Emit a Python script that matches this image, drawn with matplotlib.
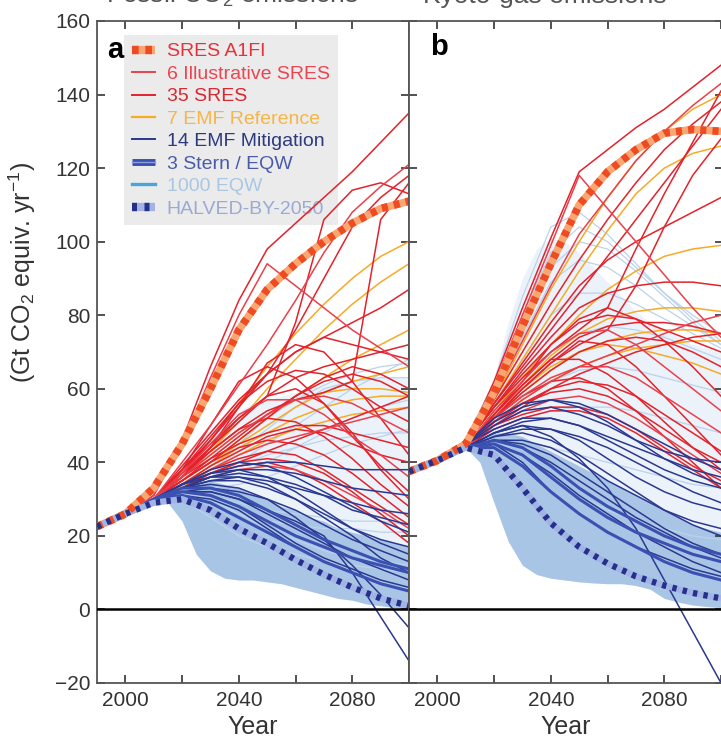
import matplotlib
matplotlib.use("Agg")
import matplotlib.pyplot as plt
from matplotlib.lines import Line2D
from matplotlib.ticker import FixedLocator, FuncFormatter

plt.rcParams['font.family'] = ['Liberation Sans', 'DejaVu Sans']
plt.rcParams['mathtext.fontset'] = 'custom'
plt.rcParams['mathtext.rm'] = 'Liberation Sans'
plt.rcParams['mathtext.it'] = 'Liberation Sans:italic'
plt.rcParams['axes.unicode_minus'] = True

# ---------------------------------------------------------------- data
years = [1990, 2000, 2010, 2020, 2030, 2040, 2050, 2060, 2070, 2080, 2090, 2100]
band_years = [2010, 2015, 2020, 2025, 2030, 2035, 2040, 2045, 2050, 2055,
              2060, 2065, 2070, 2075, 2080, 2085, 2090, 2095, 2100]

panel_titles = ['Fossil CO$_2$ emissions', 'Kyoto-gas emissions']
panel_letters = ['a', 'b']
x_tick_values = [2000, 2020, 2040, 2060, 2080, 2100]
x_tick_labels = {2000: '2000', 2040: '2040', 2080: '2080'}
y_tick_values = [-20, 0, 20, 40, 60, 80, 100, 120, 140, 160]

legend_labels = ['SRES A1FI', '6 Illustrative SRES', '35 SRES', '7 EMF Reference',
                 '14 EMF Mitigation', '3 Stern / EQW', '1000 EQW', 'HALVED-BY-2050']

# panel a: fossil CO2
a_a1fi = [22.5, 26, 33, 45, 60, 76, 87, 94, 100, 105, 109, 111]
a_halved = [22.5, 26, 29, 30, 27, 22, 18, 13.5, 9.5, 6, 3, 1]
a_illustrative = [
    [22.5, 26, 31, 45, 63, 80, 94, 88, 82, 76, 71, 66],
    [22.5, 26, 30, 40, 50, 61, 72, 84, 97, 108, 115, 121],
    [22.5, 26, 30, 36, 42, 48, 53, 57, 58, 56, 52, 48],
    [22.5, 26, 30, 37, 45, 53, 57, 57, 53, 47, 42, 36],
    [22.5, 26, 30, 34, 38, 42, 45, 47, 49, 51, 53, 55],
    [22.5, 26, 29, 33, 36, 38, 39, 38, 35, 31, 27, 22],
]
a_sres = [
    [22.5, 26, 31, 46, 66, 84, 98, 105, 112, 119, 127, 135],
    [22.5, 26, 30, 38, 45, 52, 58, 78, 106, 114, 116, 113],
    [22.5, 26, 30, 38, 46, 55, 64, 76, 90, 104, 112, 118],
    [22.5, 26, 30, 37, 43, 49, 54, 57, 59, 62, 106, 116],
    [22.5, 26, 30, 39, 48, 57, 64, 70, 74, 72, 70, 68],
    [22.5, 26, 30, 37, 44, 51, 58, 63, 66, 68, 70, 72],
    [22.5, 26, 30, 38, 47, 56, 62, 65, 64, 60, 55, 51],
    [22.5, 26, 30, 35, 40, 46, 52, 58, 63, 66, 64, 60],
    [22.5, 26, 30, 36, 41, 45, 48, 50, 50, 48, 46, 44],
    [22.5, 26, 30, 34, 39, 43, 47, 49, 48, 45, 42, 40],
    [22.5, 26, 30, 36, 43, 49, 52, 51, 47, 41, 34, 28],
    [22.5, 26, 30, 35, 40, 44, 46, 45, 42, 37, 31, 25],
    [22.5, 26, 30, 34, 38, 41, 43, 42, 38, 33, 28, 23],
    [22.5, 26, 29, 33, 37, 40, 41, 40, 37, 32, 26, 20],
    [22.5, 26, 30, 36, 44, 52, 58, 60, 56, 48, 38, 30],
    [22.5, 26, 30, 35, 41, 47, 53, 58, 62, 64, 62, 58],
    [22.5, 26, 30, 38, 50, 62, 66, 63, 56, 47, 39, 32],
    [22.5, 26, 30, 36, 44, 55, 67, 72, 70, 62, 52, 42],
    [22.5, 26, 29, 33, 37, 40, 43, 46, 49, 52, 55, 58],
    [22.5, 26, 30, 34, 37, 39, 40, 38, 34, 29, 24, 18],
    [22.5, 26, 30, 37, 46, 56, 64, 70, 74, 78, 82, 87],
]
a_emf_ref = [
    [22.5, 26, 30, 37, 46, 56, 66, 75, 83, 90, 96, 100],
    [22.5, 26, 30, 36, 43, 51, 60, 68, 76, 83, 89, 94],
    [22.5, 26, 30, 35, 40, 46, 52, 58, 63, 68, 72, 76],
    [22.5, 26, 30, 35, 40, 45, 50, 55, 59, 62, 64, 66],
    [22.5, 26, 29, 34, 39, 44, 48, 52, 55, 57, 58, 58],
    [22.5, 26, 29, 33, 38, 42, 46, 49, 51, 53, 54, 55],
    [22.5, 26, 30, 36, 42, 48, 53, 57, 59, 60, 60, 59],
]
a_emf_mit = [
    [22.5, 26, 30, 34, 37, 39, 40, 40, 39, 38, 38, 38],
    [22.5, 26, 30, 33, 36, 38, 38, 37, 35, 33, 32, 31],
    [22.5, 26, 30, 33, 35, 36, 35, 33, 31, 29, 27, 26],
    [22.5, 26, 30, 33, 35, 35, 33, 30, 26, 22, 19, 17],
    [22.5, 26, 30, 32, 33, 32, 30, 27, 23, 19, 16, 13],
    [22.5, 26, 30, 32, 32, 30, 26, 22, 18, 14, 11, 8],
    [22.5, 26, 30, 33, 34, 33, 30, 25, 19, 12, 4, -5],
    [22.5, 26, 30, 32, 32, 30, 27, 24, 20, 10, -2, -14],
    [22.5, 26, 30, 34, 38, 40, 39, 36, 32, 28, 24, 21],
    [22.5, 26, 30, 33, 36, 37, 36, 34, 31, 27, 25, 23],
    [22.5, 26, 29, 31, 30, 27, 22, 17, 13, 10, 7, 5],
    [22.5, 26, 30, 34, 37, 38, 36, 32, 27, 22, 18, 15],
    [22.5, 26, 30, 32, 31, 28, 23, 18, 14, 11, 8, 6],
    [22.5, 26, 30, 34, 36, 36, 34, 30, 25, 20, 14, 10],
]
a_stern = [
    [22.5, 26, 30, 32, 31, 28, 24, 20, 17, 14, 12, 10],
    [22.5, 26, 30, 33, 33, 31, 27, 23, 19, 16, 13, 11],
    [22.5, 26, 30, 31, 29, 25, 21, 17, 13, 10, 7, 5],
]
a_eqw = [
    [22.5, 26, 30, 33, 36, 40, 45, 50, 55, 60, 64, 68],
    [22.5, 26, 30, 34, 39, 45, 52, 57, 61, 64, 66, 67],
    [22.5, 26, 30, 33, 35, 37, 40, 44, 48, 52, 55, 57],
    [22.5, 26, 30, 32, 33, 34, 36, 39, 42, 45, 47, 49],
    [22.5, 26, 30, 33, 36, 39, 42, 44, 46, 47, 48, 48],
    [22.5, 26, 30, 31, 29, 26, 24, 23, 22, 22, 21, 21],
    [22.5, 26, 30, 32, 31, 29, 27, 26, 25, 24, 24, 23],
    [22.5, 26, 30, 30, 25, 20, 17, 15, 13, 12, 11, 10],
    [22.5, 26, 30, 34, 38, 43, 49, 55, 60, 62, 63, 63],
    [22.5, 26, 30, 32, 30, 26, 22, 19, 16, 14, 13, 12],
]
a_eqw_low = [29.5, 29, 24, 15, 10.5, 8.5, 8, 8, 7.5, 7, 6, 5, 4, 3, 2.5, 1.5, 1, 0.5, 0]
a_eqw_core = [30.5, 32, 34, 35, 35, 34, 33, 31, 30, 28, 27, 25, 24, 22, 21, 20, 19, 18, 17]
a_eqw_high = [31, 35, 40, 45, 49, 52, 54, 56, 57, 58, 59, 60, 61, 62, 62, 63, 63, 63, 63]

# panel b: Kyoto gases
b_a1fi = [37.5, 40.5, 45, 59, 77, 94, 110, 119, 125, 129.5, 130.5, 130]
b_halved = [37.5, 40.5, 44, 42, 33, 23.5, 17, 12.5, 9, 6.5, 4.5, 3]
b_illustrative = [
    [37.5, 40.5, 45, 61, 80, 99, 118, 109, 100, 91, 82, 74],
    [37.5, 40.5, 45, 58, 73, 88, 102, 112, 122, 130, 137, 143],
    [37.5, 40.5, 44, 52, 58, 63, 66, 66, 63, 58, 53, 48],
    [37.5, 40.5, 44, 54, 62, 70, 75, 76, 72, 66, 60, 54],
    [37.5, 40.5, 44, 51, 57, 62, 66, 69, 72, 75, 78, 80],
    [37.5, 40.5, 44, 50, 54, 57, 58, 56, 52, 47, 42, 37],
]
b_sres = [
    [37.5, 40.5, 45, 62, 82, 101, 119, 125, 131, 136, 142, 148],
    [37.5, 40.5, 45, 57, 70, 83, 95, 106, 116, 125, 132, 138],
    [37.5, 40.5, 45, 56, 66, 76, 86, 96, 106, 116, 126, 136],
    [37.5, 40.5, 45, 55, 63, 70, 76, 82, 98, 113, 127, 141],
    [37.5, 40.5, 45, 55, 64, 72, 78, 80, 79, 76, 73, 70],
    [37.5, 40.5, 44, 53, 61, 68, 74, 77, 78, 78, 77, 75],
    [37.5, 40.5, 44, 52, 59, 65, 70, 73, 74, 73, 70, 66],
    [37.5, 40.5, 44, 51, 56, 60, 62, 61, 58, 53, 48, 43],
    [37.5, 40.5, 44, 52, 58, 62, 63, 60, 54, 47, 40, 33],
    [37.5, 40.5, 44, 49, 52, 54, 54, 52, 48, 43, 38, 33],
    [37.5, 40.5, 44, 53, 61, 68, 68, 64, 58, 51, 44, 38],
    [37.5, 40.5, 45, 55, 65, 74, 82, 86, 88, 89, 89, 88],
    [37.5, 40.5, 44, 53, 62, 72, 79, 82, 79, 73, 66, 58],
    [37.5, 40.5, 44, 50, 55, 60, 64, 67, 70, 72, 74, 75],
    [37.5, 40.5, 44, 52, 60, 67, 73, 72, 66, 58, 50, 42],
    [37.5, 40.5, 44, 52, 60, 67, 72, 76, 88, 104, 118, 128],
    [37.5, 40.5, 44, 51, 56, 59, 60, 58, 54, 49, 44, 40],
    [37.5, 40.5, 45, 56, 67, 78, 88, 95, 100, 104, 108, 112],
    [37.5, 40.5, 44, 50, 53, 55, 55, 53, 49, 44, 39, 35],
]
b_emf_ref = [
    [37.5, 40.5, 45, 57, 72, 87, 100, 112, 122, 130, 136, 140],
    [37.5, 40.5, 45, 56, 68, 80, 92, 103, 113, 120, 124, 126],
    [37.5, 40.5, 44, 54, 63, 72, 80, 87, 92, 96, 98, 99],
    [37.5, 40.5, 44, 53, 61, 69, 75, 79, 81, 82, 82, 81],
    [37.5, 40.5, 44, 52, 59, 65, 70, 73, 75, 76, 76, 75],
    [37.5, 40.5, 44, 51, 57, 62, 66, 69, 71, 72, 73, 73],
    [37.5, 40.5, 44, 53, 60, 66, 70, 72, 71, 69, 67, 64],
]
b_emf_mit = [
    [37.5, 40.5, 45, 50, 54, 55, 53, 50, 46, 43, 41, 40],
    [37.5, 40.5, 45, 49, 52, 52, 50, 46, 42, 38, 35, 33],
    [37.5, 40.5, 44, 48, 50, 49, 46, 41, 36, 32, 29, 27],
    [37.5, 40.5, 44, 47, 48, 46, 42, 37, 32, 27, 23, 20],
    [37.5, 40.5, 44, 46, 45, 42, 37, 32, 27, 22, 18, 15],
    [37.5, 40.5, 44, 45, 42, 37, 31, 26, 21, 17, 13, 10],
    [37.5, 40.5, 44, 48, 50, 47, 41, 33, 22, 8, -6, -20],
    [37.5, 40.5, 45, 52, 56, 57, 55, 51, 46, 41, 37, 34],
    [37.5, 40.5, 44, 46, 44, 40, 35, 30, 25, 21, 17, 14],
    [37.5, 40.5, 44, 48, 51, 52, 50, 47, 44, 41, 38, 36],
    [37.5, 40.5, 44, 46, 46, 44, 40, 35, 31, 27, 24, 22],
    [37.5, 40.5, 44, 45, 40, 32, 26, 21, 17, 14, 11, 9],
    [37.5, 40.5, 44, 47, 49, 49, 47, 44, 40, 36, 32, 29],
    [37.5, 40.5, 45, 51, 55, 57, 56, 53, 49, 45, 41, 38],
]
b_stern = [
    [37.5, 40.5, 44, 45, 42, 36, 30, 25, 21, 18, 15, 13],
    [37.5, 40.5, 44, 46, 44, 39, 33, 28, 24, 20, 17, 15],
    [37.5, 40.5, 44, 44, 39, 32, 26, 21, 17, 13, 10, 8],
]
b_eqw = [
    [37.5, 40.5, 46, 62, 85, 104, 108, 102, 94, 86, 79, 73],
    [37.5, 40.5, 46, 60, 80, 97, 104, 100, 93, 86, 80, 75],
    [37.5, 40.5, 45, 57, 74, 89, 95, 93, 88, 82, 77, 72],
    [37.5, 40.5, 45, 55, 68, 80, 86, 86, 83, 79, 75, 71],
    [37.5, 40.5, 45, 53, 62, 70, 75, 77, 76, 74, 71, 68],
    [37.5, 40.5, 45, 51, 57, 62, 65, 66, 65, 63, 61, 59],
    [37.5, 40.5, 45, 49, 52, 54, 55, 55, 54, 52, 50, 48],
    [37.5, 40.5, 45, 47, 46, 44, 42, 40, 38, 36, 34, 33],
    [37.5, 40.5, 45, 46, 42, 36, 31, 27, 24, 22, 20, 19],
    [37.5, 40.5, 45, 58, 77, 93, 100, 98, 92, 85, 78, 72],
]
b_eqw_low = [44, 40, 29, 18.5, 12, 9.5, 8.5, 8, 7.5, 7.2, 7, 7, 6.5, 5.5, 3, 2, 1.2, 0.8, 0.5]
b_eqw_core = [45, 46, 48, 48, 47, 45, 43, 41, 39, 37, 35, 33, 31, 29, 27, 25, 23, 22, 21]
b_eqw_high = [45, 50, 63, 78, 90, 98, 101, 100, 97, 93, 89, 85, 81, 78, 76, 74, 72, 71, 70]

# ---------------------------------------------------------------- styles
RED = '#e3222b'
RED_ILL = '#e9404b'
ORANGE = '#f7aa26'
NAVY = '#2b3890'
STERN = '#3a51b2'
EQW_LINE = '#bad3ec'
EQW_CORE = '#a9c5e6'
EQW_CLOUD = '#ebf2fa'
A1FI_BASE = '#f9a672'
A1FI_DASH = '#ee4b22'
HALVED_BASE = '#a3b3e4'
HALVED_DASH = '#23308c'
SPINE = '#555555'

W, H = 721, 741
fig = plt.figure(figsize=(W / 100, H / 100), dpi=100)
ax_a = fig.add_axes([97 / W, 1 - 683 / H, 312 / W, 662 / H])
ax_b = fig.add_axes([409 / W, 1 - 683 / H, 314 / W, 662 / H])


def draw_panel(ax, a1fi, halved, illus, sres, emf_ref, emf_mit, stern, eqw,
               eqw_low, eqw_core, eqw_high, xmax):
    ax.fill_between(band_years, eqw_low, eqw_high, color=EQW_CLOUD, lw=0, zorder=1)
    ax.fill_between(band_years, eqw_low, eqw_core, color=EQW_CORE, lw=0, zorder=1.1)
    for s in eqw:
        ax.plot(years, s, color=EQW_LINE, lw=0.9, zorder=1.2)
    for s in emf_ref:
        ax.plot(years, s, color=ORANGE, lw=1.1, zorder=2)
    for s in sres:
        ax.plot(years, s, color=RED, lw=1.1, zorder=2.2)
    for s in illus:
        ax.plot(years, s, color=RED_ILL, lw=1.1, zorder=2.3)
    for s in emf_mit:
        ax.plot(years, s, color=NAVY, lw=1.1, zorder=2.5)
    for s in stern:
        ax.plot(years, s, color=STERN, lw=2.2, zorder=2.6)
    ax.plot(years, a1fi, color=A1FI_BASE, lw=5.5, zorder=3, solid_capstyle='butt')
    ax.plot(years, a1fi, color=A1FI_DASH, lw=5.5, ls=(0, (0.8, 0.8)), zorder=3.1,
            dash_capstyle='butt')
    ax.plot(years, halved, color=HALVED_BASE, lw=4.5, zorder=3, solid_capstyle='butt')
    ax.plot(years, halved, color=HALVED_DASH, lw=4.5, ls=(0, (0.7, 1.0)), zorder=3.1,
            dash_capstyle='butt')
    ax.axhline(0, color='black', lw=1.8, zorder=4)

    ax.set_xlim(1990, xmax)
    ax.set_ylim(-20, 160)
    ax.xaxis.set_major_locator(FixedLocator(x_tick_values))
    ax.xaxis.set_major_formatter(FuncFormatter(lambda v, p: x_tick_labels.get(int(round(v)), '')))
    ax.yaxis.set_major_locator(FixedLocator(y_tick_values))
    ax.tick_params(axis='both', direction='in', length=6, width=1.2, color='#333333',
                   top=True, right=True, labelsize=15, labelcolor='#333333')
    ax.tick_params(axis='x', pad=6)
    ax.tick_params(axis='y', pad=5)
    for sp in ax.spines.values():
        sp.set_color(SPINE)
        sp.set_linewidth(1.3)
    ax.set_xlabel('Year', fontsize=18, color='#333333', labelpad=3)


draw_panel(ax_a, a_a1fi, a_halved, a_illustrative, a_sres, a_emf_ref, a_emf_mit,
           a_stern, a_eqw, a_eqw_low, a_eqw_core, a_eqw_high, 2100)
draw_panel(ax_b, b_a1fi, b_halved, b_illustrative, b_sres, b_emf_ref, b_emf_mit,
           b_stern, b_eqw, b_eqw_low, b_eqw_core, b_eqw_high, 2100.7)
ax_b.tick_params(axis='y', labelleft=False)

ax_a.text(0.058, 0.956, panel_letters[0], transform=ax_a.transAxes, fontsize=21,
          fontweight='bold', ha='center', va='center', zorder=6)
ax_b.text(0.096, 0.961, panel_letters[1], transform=ax_b.transAxes, fontsize=21,
          fontweight='bold', ha='center', va='center', zorder=6)

fig.text(22 / W, 1 - 272 / H, '(Gt CO$_2$ equiv. yr$^{-1}$)', rotation=90,
         fontsize=18, ha='center', va='center', color='#333333')
# panel headings sit at the very top edge of the figure
fig.text(232 / W, 1 - 3 / H, panel_titles[0], ha='center', va='baseline',
         fontsize=19, color='#555555')
fig.text(545 / W, 1 - 3 / H, panel_titles[1], ha='center', va='baseline',
         fontsize=19, color='#555555')

# legend
handles = [
    (Line2D([], [], color=A1FI_BASE, lw=6, solid_capstyle='butt'),
     Line2D([], [], color=A1FI_DASH, lw=6, ls=(0, (0.8, 0.8)), dash_capstyle='butt')),
    Line2D([], [], color=RED_ILL, lw=1.4),
    Line2D([], [], color=RED, lw=1.4),
    Line2D([], [], color=ORANGE, lw=1.6),
    Line2D([], [], color=NAVY, lw=1.4),
    (Line2D([], [], color=STERN, lw=5, solid_capstyle='butt'),
     Line2D([], [], color='#8a9cdc', lw=1.0)),
    Line2D([], [], color='#45a5dc', lw=2.4),
    (Line2D([], [], color=HALVED_BASE, lw=6, solid_capstyle='butt'),
     Line2D([], [], color=HALVED_DASH, lw=6, ls=(0, (0.6, 0.9)), dash_capstyle='butt')),
]
text_colors = ['#e8303a', '#ea4552', '#d9282f', '#f6b547', '#2e3a80', '#4a5bab',
               '#a9c6e3', '#9aaad3']
leg = ax_a.legend(handles, legend_labels, loc='upper left',
                  bbox_to_anchor=((124 - 97) / 312, 1 - (35 - 21) / 662),
                  borderaxespad=0, fontsize=14, handlelength=1.2, handleheight=0.7,
                  handletextpad=0.6, labelspacing=0.25, borderpad=0.4,
                  frameon=True, fancybox=False, framealpha=1)
leg.get_frame().set_facecolor('#ebebeb')
leg.get_frame().set_edgecolor('none')
for t, c in zip(leg.get_texts(), text_colors):
    t.set_color(c)
leg.set_zorder(1.5)

fig.savefig('out.png', dpi=100)
